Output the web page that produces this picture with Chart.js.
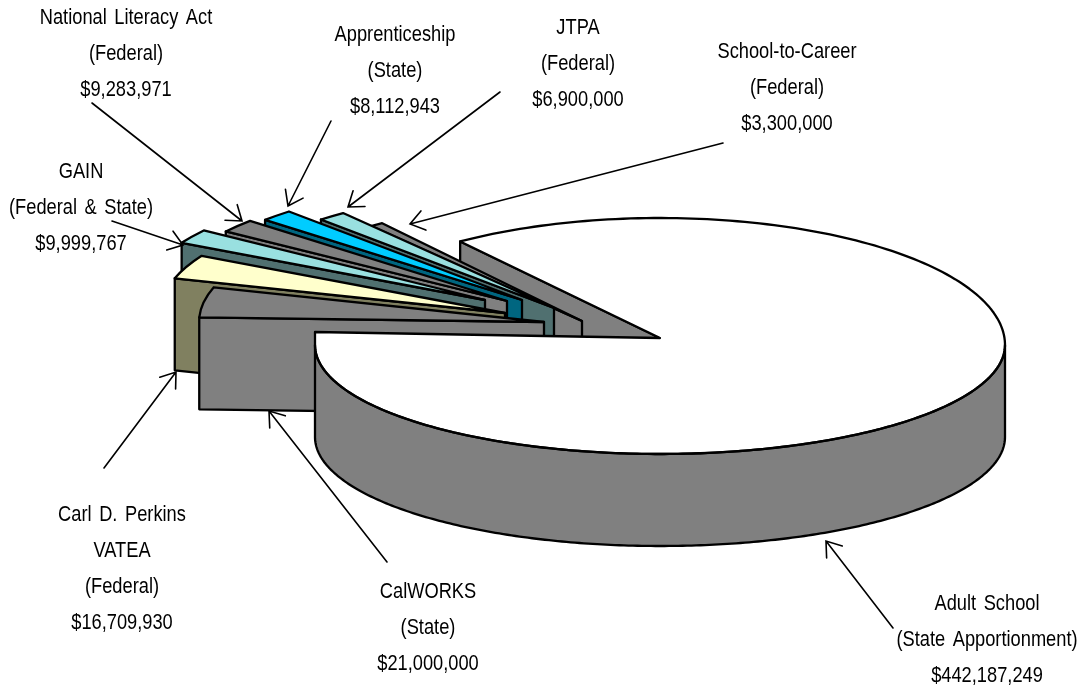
<!DOCTYPE html>
<html>
<head>
<meta charset="utf-8">
<style>
html,body{margin:0;padding:0;background:#fff}
canvas{display:block}
</style>
<script src="https://cdn.jsdelivr.net/npm/chart.js@4"></script>
</head>
<body>
<canvas id="c" width="1087" height="688" style="width:1087px;height:688px"></canvas>
<script>
// ---- data (clockwise from the start of the largest slice)
const programs = [["Adult School"],["CalWORKS"],["Carl D. Perkins","VATEA"],["GAIN"],["National Literacy Act"],["Apprenticeship"],["JTPA"],["School-to-Career"]];
const fundingTypes = ["(State Apportionment)","(State)","(Federal)","(Federal & State)","(Federal)","(State)","(Federal)","(Federal)"];
const amounts = [442187249,21000000,16709930,9999767,9283971,8112943,6900000,3300000];

// ---- styles
const topColors  = ["#FFFFFF","#808080","#FFFFCC","#99E0E0","#808080","#00CCFF","#99E0E0","#808080"];
const wallColors = ["#808080","#808080","#808060","#507070","#808080","#006680","#507070","#808080"];

// ---- layout
const CENTER = {x:660, y:338}, RX = 345, RY = 120, DEPTH = 92;
// perspective of the large slice: its rim is flatter in front than behind
const RIM_Y = 345, RY_BACK = 127, RY_FRONT = 109, CORNER_Y = 332;
const explodeX = [0,-116,-155,-175,-153,-138,-106,-78];
const explodeY = [0,-16,-25,-38,-37,-38,-30,-17];
const paintOrder = [7,6,5,4,3,2,1];
const labelX = [987,428,122,81,126,395,578,787];
const labelY = [610,598,521,178,24,41,34,58];
const LINE_GAP = 36, TEXT_SQUEEZE = 0.83;
const leaderFrom = [[893,628],[387,562],[104,468],[112,221],[92,103],[331,121],[500,92],[723,143]];
const leaderTo   = [[826,541],[269,411],[176,372],[183,245],[242,221],[288,206],[348,207],[410,224]];

function place(ctx, el, i){
  ctx.translate(CENTER.x + explodeX[i], CENTER.y + explodeY[i]);
  ctx.scale(RX / el.outerRadius, RY / el.outerRadius);
  ctx.translate(-el.x, -el.y);
}
function pt(i, a, down){
  return [CENTER.x + explodeX[i] + RX*Math.cos(a), CENTER.y + explodeY[i] + RY*Math.sin(a) + (down?DEPTH:0)];
}
function rimPt(a, down){
  const s = Math.sin(a);
  return [CENTER.x + RX*Math.cos(a), RIM_Y + (s > 0 ? RY_FRONT : RY_BACK)*s + (down?DEPTH:0)];
}
function tip(i, down){ return [CENTER.x + explodeX[i], CENTER.y + explodeY[i] + (down?DEPTH:0)]; }

function tracePoly(ctx, pts){
  ctx.beginPath();
  pts.forEach((p,k)=> k ? ctx.lineTo(p[0],p[1]) : ctx.moveTo(p[0],p[1]));
  ctx.closePath();
}
function drawPoly(ctx, pts, fill){
  tracePoly(ctx, pts);
  ctx.fillStyle = fill; ctx.fill(); ctx.stroke();
}
function sliceWall(ctx, el, i){
  const a = el.startAngle;
  if (-Math.cos(a) <= 0) return;
  drawPoly(ctx, [pt(i,a,false), tip(i,false), tip(i,true), pt(i,a,true)], wallColors[i]);
}
function sliceTop(ctx, el, i){
  ctx.save(); place(ctx, el, i); el.draw(ctx); ctx.restore();
  const cx = CENTER.x + explodeX[i], cy = CENTER.y + explodeY[i];
  ctx.beginPath();
  ctx.moveTo(cx, cy);
  ctx.ellipse(cx, cy, RX, RY, 0, el.startAngle, el.endAngle);
  ctx.closePath();
  ctx.stroke();
}
function arcPoints(s, e, down){
  const pts = [], n = 240;
  for (let k=0;k<=n;k++) pts.push(rimPt(s+(e-s)*k/n, down));
  return pts;
}
function mainBackWall(ctx, el){
  const a = el.startAngle;
  drawPoly(ctx, [rimPt(a,false), tip(0,false), tip(0,true), rimPt(a,true)], wallColors[0]);
}
function mainFront(ctx, el){
  const cornerX = CENTER.x - RX;
  // top face
  ctx.save(); place(ctx, el, 0); el.draw(ctx); ctx.restore();
  const outline = [tip(0,false), ...arcPoints(el.startAngle, Math.PI, false), [cornerX, CORNER_Y]];
  tracePoly(ctx, outline); ctx.fillStyle = topColors[0]; ctx.fill();
  // rim wall
  const rim = [...arcPoints(0, Math.PI, false), ...arcPoints(0, Math.PI, true).reverse()];
  drawPoly(ctx, rim, wallColors[0]);
  tracePoly(ctx, outline); ctx.stroke();
}

const pie3d = {
  id:'pie3d',
  beforeDatasetDraw(chart){
    const ctx = chart.ctx, arcs = chart.getDatasetMeta(0).data;
    ctx.save();
    ctx.strokeStyle = '#000'; ctx.lineWidth = 2.3; ctx.lineJoin = 'round';
    mainBackWall(ctx, arcs[0]);
    paintOrder.forEach(i=>{ sliceWall(ctx, arcs[i], i); sliceTop(ctx, arcs[i], i); });
    mainFront(ctx, arcs[0]);
    ctx.restore();
    return false;
  },
  afterDraw(chart){
    const ctx = chart.ctx;
    ctx.save();
    ctx.strokeStyle = '#000'; ctx.lineWidth = 1.6; ctx.lineCap = 'round';
    leaderFrom.forEach((f,i)=>{
      const t = leaderTo[i], ang = Math.atan2(f[1]-t[1], f[0]-t[0]), L = 17, sp = 0.62;
      ctx.beginPath();
      ctx.moveTo(f[0],f[1]); ctx.lineTo(t[0],t[1]);
      ctx.moveTo(t[0]+L*Math.cos(ang+sp), t[1]+L*Math.sin(ang+sp));
      ctx.lineTo(t[0],t[1]);
      ctx.lineTo(t[0]+L*Math.cos(ang-sp), t[1]+L*Math.sin(ang-sp));
      ctx.stroke();
    });
    ctx.fillStyle = '#000';
    ctx.font = '22px "Liberation Sans",Arial,sans-serif';
    ctx.textAlign = 'center'; ctx.textBaseline = 'alphabetic';
    if ('wordSpacing' in ctx) ctx.wordSpacing = '3px';
    programs.forEach((name,i)=>{
      const lines = [...name, fundingTypes[i], '$' + amounts[i].toLocaleString('en-US')];
      lines.forEach((ln,k)=>{
        ctx.save();
        ctx.translate(labelX[i], labelY[i] + k*LINE_GAP);
        ctx.scale(TEXT_SQUEEZE, 1);
        ctx.fillText(ln, 0, 0);
        ctx.restore();
      });
    });
    ctx.restore();
  }
};

new Chart(document.getElementById('c'), {
  type:'pie',
  data:{
    labels: programs.map(p=>p.join(' ')),
    datasets:[{ data: amounts, backgroundColor: topColors, borderWidth:0 }]
  },
  options:{
    responsive:false,
    devicePixelRatio:1,
    animation:false,
    rotation:-35.4,
    plugins:{ legend:{display:false}, tooltip:{enabled:false}, title:{display:false} }
  },
  plugins:[pie3d]
});
</script>
</body>
</html>
